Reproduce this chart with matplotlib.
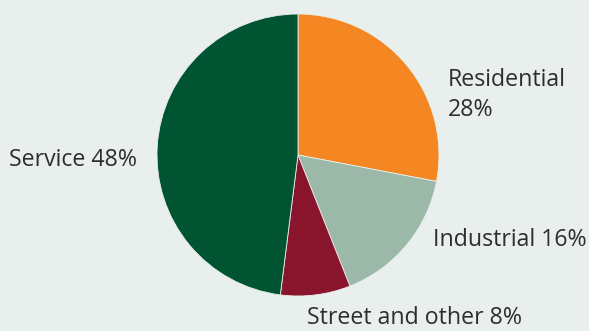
import matplotlib
matplotlib.use("Agg")
import matplotlib.pyplot as plt

# electricity use by sector
sectors = ["Residential", "Industrial", "Street and other", "Service"]
shares = [28, 16, 8, 48]
colors = ["#F58723", "#9CB8A8", "#89152C", "#005432"]
labels = ["Residential\n28%", "Industrial 16%", "Street and other 8%", "Service 48%"]

bg = "#E8EFEC"
W, H = 589, 331

fig = plt.figure(figsize=(W / 100., H / 100.), dpi=100, facecolor=bg)
ax = fig.add_axes([0, 0, 1, 1])
ax.set_facecolor(bg)

ax.pie(shares, colors=colors, startangle=90, counterclock=False,
       radius=141, center=(298, H - 155), frame=True,
       wedgeprops=dict(edgecolor=bg, linewidth=0.6))
ax.set_xlim(0, W)
ax.set_ylim(0, H)
ax.set_aspect("equal")
ax.axis("off")

# label anchors (left edge, vertical centre) in pixels from top-left
spots = [(448, 95), (433, 240), (307, 318), (9, 160)]
for txt, (x, y) in zip(labels, spots):
    ax.text(x, H - y, txt, ha="left", va="center", fontsize=16.7,
            family="Open Sans", color="#2E2E2E", linespacing=1.35)

fig.savefig("out.png", dpi=100, facecolor=bg)
